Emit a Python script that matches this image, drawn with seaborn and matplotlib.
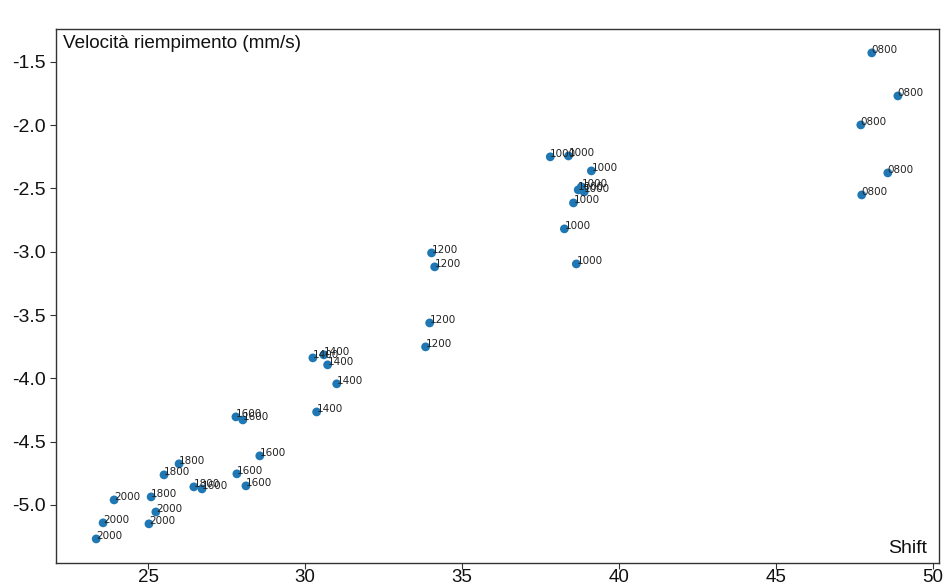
import matplotlib
matplotlib.use("Agg")
import matplotlib.pyplot as plt
import pandas as pd
import seaborn as sns

# Shift vs filling speed, one label per measurement (production time slot)
shift = [
    48.05, 48.88, 47.70, 48.56, 47.73,
    37.81, 38.39, 39.12, 38.70, 38.80, 38.89, 38.55, 38.26, 38.64,
    34.03, 34.13, 33.97, 33.84,
    30.25, 30.60, 30.72, 31.01, 30.37,
    27.80, 28.02, 28.56, 27.83, 28.12, 26.72,
    25.99, 25.51, 25.10, 26.46,
    23.92, 25.25, 23.57, 25.03, 23.35,
]
velocita = [
    -1.429, -1.769, -1.998, -2.377, -2.551,
    -2.250, -2.243, -2.361, -2.511, -2.487, -2.527, -2.614, -2.819, -3.096,
    -3.009, -3.119, -3.562, -3.751,
    -3.838, -3.814, -3.893, -4.043, -4.265,
    -4.304, -4.328, -4.612, -4.754, -4.849, -4.873,
    -4.675, -4.762, -4.936, -4.857,
    -4.960, -5.055, -5.141, -5.149, -5.268,
]
orario = (
    ["0800"] * 5
    + ["1000"] * 9
    + ["1200"] * 4
    + ["1400"] * 5
    + ["1600"] * 6
    + ["1800"] * 4
    + ["2000"] * 5
)

df = pd.DataFrame({"Shift": shift, "Velocita": velocita, "Orario": orario})

sns.set_style("ticks")
plt.rcParams["font.family"] = ["Liberation Sans", "DejaVu Sans"]

fig = plt.figure(figsize=(9.46, 5.84), dpi=100)
ax = fig.add_axes([0.0592, 0.036, 0.9334, 0.9144])

sns.scatterplot(data=df, x="Shift", y="Velocita", ax=ax,
                color="#1f77b4", s=40, edgecolor="none", legend=False)

for xv, yv, lab in zip(df["Shift"], df["Velocita"], df["Orario"]):
    ax.text(xv, yv, lab, fontsize=7.5, family="DejaVu Sans", color="#222222")

ax.set_xlim(22.07, 50.19)
ax.set_ylim(-5.458, -1.24)
ax.set_xticks([25, 30, 35, 40, 45, 50])
ax.set_yticks([-1.5, -2.0, -2.5, -3.0, -3.5, -4.0, -4.5, -5.0])
ax.set_yticklabels(["-1.5", "-2.0", "-2.5", "-3.0", "-3.5", "-4.0", "-4.5", "-5.0"])
ax.tick_params(labelsize=14, length=4, color="#333333", labelcolor="#111111")
ax.tick_params(axis="x", pad=0.5, labelsize=13.5)
for sp in ax.spines.values():
    sp.set_color("#333333")
    sp.set_linewidth(1.0)

ax.set_xlabel("")
ax.set_ylabel("")
ax.text(0.008, 0.989, "Velocità riempimento (mm/s)", transform=ax.transAxes,
        ha="left", va="top", fontsize=13.6, color="#111111")
ax.text(0.986, 0.019, "Shift", transform=ax.transAxes,
        ha="right", va="baseline", fontsize=14, color="#111111")

fig.savefig("out.png", dpi=100)
